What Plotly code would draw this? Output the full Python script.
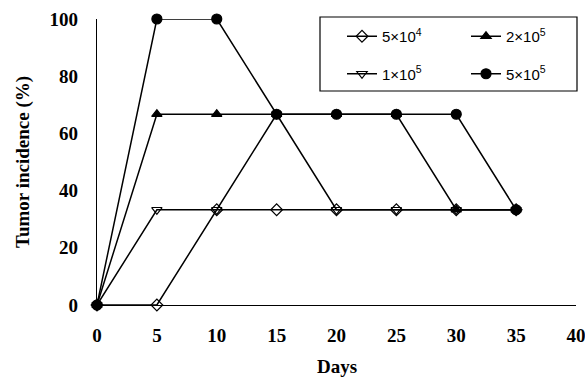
import plotly.graph_objects as go

days = [0, 5, 10, 15, 20, 25, 30, 35]
inc_5e4 = [0, 0, 33.3, 33.3, 33.3, 33.3, 33.3, 33.3]
inc_1e5 = [0, 33.3, 33.3, 66.7, 33.3, 33.3, 33.3, 33.3]
inc_2e5 = [0, 66.7, 66.7, 66.7, 66.7, 66.7, 33.3, 33.3]
inc_5e5 = [0, 100, 100, 66.7, 66.7, 66.7, 66.7, 33.3]

names = ["5×10<sup>4</sup>", "1×10<sup>5</sup>", "2×10<sup>5</sup>", "5×10<sup>5</sup>"]
x_ticks = [0, 5, 10, 15, 20, 25, 30, 35, 40]
y_ticks = [0, 20, 40, 60, 80, 100]

series = [
    (inc_5e4, names[0], "diamond-open", "legend"),
    (inc_1e5, names[1], "triangle-down-open", "legend"),
    (inc_2e5, names[2], "triangle-up", "legend2"),
    (inc_5e5, names[3], "circle", "legend2"),
]

fig = go.Figure()
for vals, name, sym, leg in series:
    fig.add_trace(go.Scatter(
        x=days, y=vals, name=name, mode="lines+markers",
        line=dict(color="black", width=1.5),
        marker=dict(symbol=sym, size=10 if "circle" in sym else 9, color="black",
                    line=dict(color="black", width=1.2)),
        cliponaxis=False, legend=leg, legendgroup=name,
    ))

serif = "Liberation Serif"
L, R, T, B = 97, 9, 19, 73
W, H = 585, 378
pw, ph = W - L - R, H - T - B


def px_x(px):
    return (px - L) / pw


def px_y(py):
    return (H - B - py) / ph


leg_common = dict(
    orientation="v", xanchor="left", yanchor="top",
    bgcolor="rgba(0,0,0,0)", borderwidth=0,
    font=dict(family="Liberation Sans", size=15, color="black"),
    itemwidth=30, tracegroupgap=15,
)

fig.update_layout(
    width=W, height=H,
    margin=dict(l=L, r=R, t=T, b=B),
    plot_bgcolor="white", paper_bgcolor="white",
    showlegend=True,
    legend=dict(x=px_x(342), y=px_y(20), **leg_common),
    legend2=dict(x=px_x(466), y=px_y(20), **leg_common),
    shapes=[dict(type="rect", xref="paper", yref="paper",
                 x0=px_x(320), x1=px_x(577), y0=px_y(91), y1=px_y(17),
                 line=dict(color="black", width=1.2), layer="below")],
    xaxis=dict(
        range=[0, 40], tickvals=x_ticks, showgrid=False, zeroline=False,
        showline=True, linecolor="black", linewidth=1.2, ticks="",
        ticklabelstandoff=13, automargin=False, ticklabeloverflow="allow",
        tickfont=dict(family=serif, size=19, color="black", weight="bold"),
    ),
    yaxis=dict(
        range=[0, 100], tickvals=y_ticks, showgrid=False, zeroline=False,
        showline=True, linecolor="black", linewidth=1.2, ticks="",
        ticklabelstandoff=14, automargin=False, ticklabeloverflow="allow",
        tickfont=dict(family=serif, size=19, color="black", weight="bold"),
    ),
    annotations=[
        dict(text="Days", xref="paper", yref="paper", x=0.5, y=px_y(367), yanchor="middle",
             xanchor="center", showarrow=False,
             font=dict(family=serif, size=19, color="black", weight="bold")),
        dict(text="Tumor incidence (%)", xref="paper", yref="paper", x=px_x(23), y=0.5,
             xanchor="center", yanchor="middle", textangle=-90, showarrow=False,
             font=dict(family=serif, size=19, color="black", weight="bold")),
    ],
)

fig.write_html("out.html", config={"displayModeBar": False},
               post_script="document.body.style.margin='0';")
